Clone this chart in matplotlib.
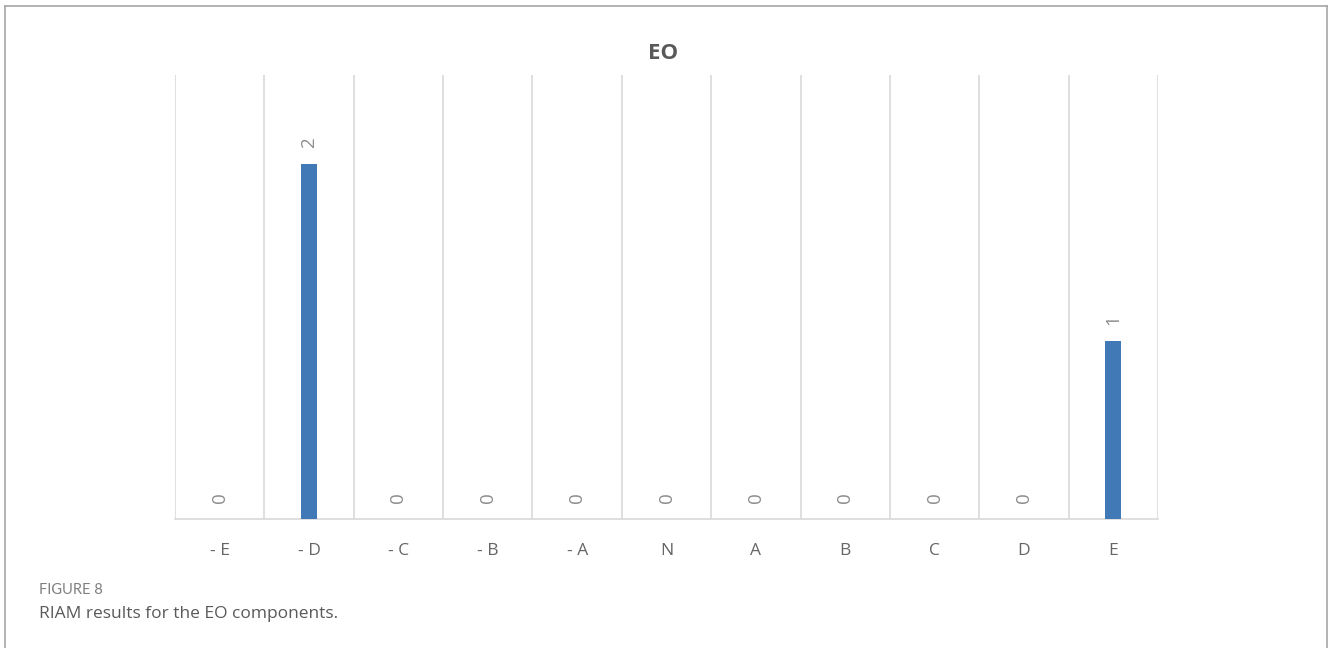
import matplotlib
matplotlib.use('Agg')
import matplotlib.pyplot as plt
from matplotlib.lines import Line2D
import numpy as np

plt.rcParams['font.family'] = ['Open Sans', 'DejaVu Sans']

# data
categories = ["- E", "- D", "- C", "- B", "- A", "N", "A", "B", "C", "D", "E"]
counts = [0, 2, 0, 0, 0, 0, 0, 0, 0, 0, 1]

BAR_COLOR = '#4178B6'
GRID_COLOR = '#D9D9D9'
TEXT_GRAY = '#595959'

fig = plt.figure(figsize=(13.28, 6.48), dpi=100)
ax = fig.add_axes([0.1318, 0.1991, 0.7402, 0.6852])

x = np.arange(len(categories))
bars = ax.bar(x, counts, width=0.18, color=BAR_COLOR, zorder=3)

ax.set_xlim(-0.5, len(categories) - 0.5)
ax.set_ylim(0, 2.5)

# vertical gridlines between categories
ax.set_xticks(np.arange(-0.5, len(categories), 1.0), minor=True)
ax.grid(True, which='minor', axis='x', color=GRID_COLOR, linewidth=1.2, zorder=0)
ax.tick_params(which='both', length=0)
ax.set_xticks(x)
ax.set_xticklabels(categories, fontsize=12.5, color='#656565')
ax.tick_params(axis='x', pad=17)
ax.set_yticks([])

for side in ['top', 'left', 'right']:
    ax.spines[side].set_visible(False)
ax.spines['bottom'].set_color(GRID_COLOR)
ax.spines['bottom'].set_linewidth(1.2)

for xi, val in zip(x, counts):
    ax.annotate(str(val), (xi, val), xytext=(0, 15.5), textcoords='offset points',
                rotation=90, ha='center', va='center', fontsize=13.5, color='#8C8C8C')

fig.text(0.4993, 0.918, 'EO', ha='center', va='center', fontsize=16,
         fontweight='bold', color=TEXT_GRAY)

# caption
fig.text(39 / 1328, 1 - 594 / 648, 'FIGURE 8', ha='left', va='baseline',
         fontsize=10.5, color='#7F7F7F', fontfamily=['Lato', 'DejaVu Sans'])
fig.text(39 / 1328, 1 - 618 / 648, 'RIAM results for the EO components.', ha='left',
         va='baseline', fontsize=12.5, color='#595959')

# frame around the figure (no bottom edge)
bx0, bx1, by = 4.5 / 1328, 1326.5 / 1328, 1 - 5.5 / 648
for xs, ys in [([bx0, bx0], [0, by]), ([bx0, bx1], [by, by]), ([bx1, bx1], [by, 0])]:
    fig.add_artist(Line2D(xs, ys, transform=fig.transFigure, color='#A6A6A6', linewidth=1.2))

fig.savefig('out.png', dpi=100, facecolor='white')
